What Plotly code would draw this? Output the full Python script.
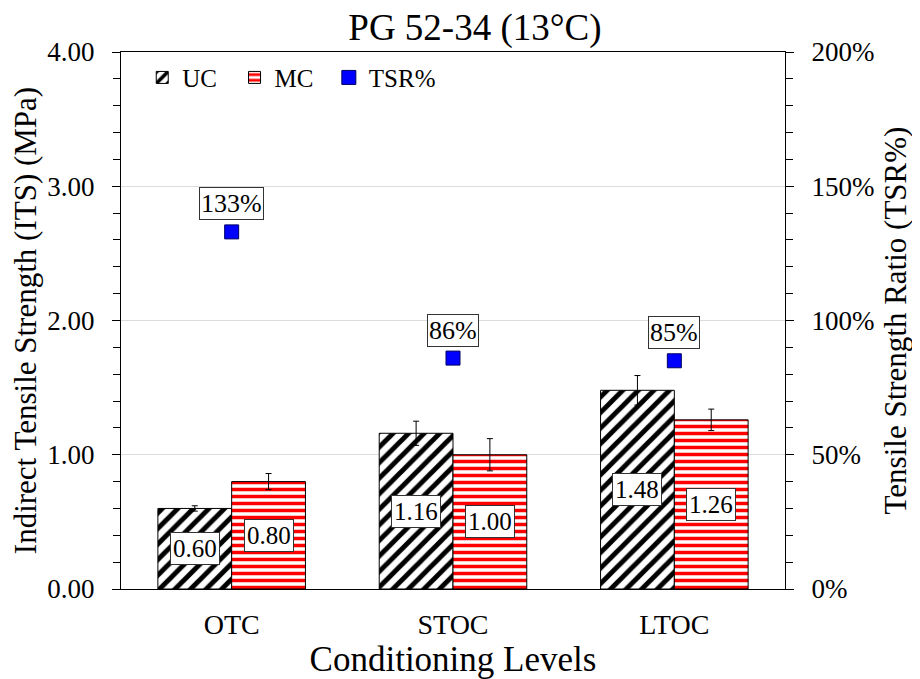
import plotly.graph_objects as go

categories = ["OTC", "STOC", "LTOC"]
uc_values = [0.60, 1.16, 1.48]
uc_errors = [0.02, 0.09, 0.11]
mc_values = [0.80, 1.00, 1.26]
mc_errors = [0.06, 0.12, 0.08]
tsr_values = [1.33, 0.86, 0.85]

FONT = "Liberation Serif"

fig = go.Figure()

fig.add_trace(go.Bar(
    name="UC", x=categories, y=uc_values, legend="legend",
    marker=dict(color="white", line=dict(color="black", width=1),
                pattern=dict(shape="/", fgcolor="black", bgcolor="white", fgopacity=1,
                             size=11, solidity=0.45)),
    error_y=dict(type="data", array=uc_errors, color="black", thickness=1, width=3),
))
fig.add_trace(go.Bar(
    name="MC", x=categories, y=mc_values, legend="legend2",
    marker=dict(color="white", line=dict(color="black", width=1),
                pattern=dict(shape="-", fgcolor="red", bgcolor="white", fgopacity=1,
                             size=7, solidity=0.5)),
    error_y=dict(type="data", array=mc_errors, color="black", thickness=1, width=3),
))
fig.add_trace(go.Scatter(
    name="TSR%", x=categories, y=tsr_values, yaxis="y2", mode="markers", legend="legend3",
    marker=dict(symbol="square", size=14, color="#0000ff", line=dict(color="#000060", width=1)),
))

annotations = []
for i, (u, m) in enumerate(zip(uc_values, mc_values)):
    for xv, val in ((i - 1/6, u), (i + 1/6, m)):
        annotations.append(dict(
            x=xv, y=val / 2, xref="x", yref="y", text=f"{val:.2f}", showarrow=False,
            font=dict(family=FONT, size=25, color="black"),
            bgcolor="white", bordercolor="#333333", borderwidth=1, borderpad=2,
        ))
for i, t in enumerate(tsr_values):
    annotations.append(dict(
        x=i, y=t, xref="x", yref="y2", text=f"{t*100:.0f}%", showarrow=False, yshift=28,
        font=dict(family=FONT, size=26, color="black"),
        bgcolor="white", bordercolor="#333333", borderwidth=1, borderpad=1,
    ))

legend_common = dict(orientation="h", y=0.995, xanchor="left", yanchor="top",
                     bgcolor="rgba(0,0,0,0)", font=dict(family=FONT, size=25),
                     itemwidth=30)

fig.update_layout(
    width=912, height=671,
    margin=dict(l=110, r=135, t=44, b=87),
    paper_bgcolor="white", plot_bgcolor="white",
    font=dict(family=FONT, size=22, color="black"),
    title=dict(text="PG 52-34 (13°C)", x=0.512, xref="container", xanchor="center",
               y=0.971, yanchor="middle", font=dict(family=FONT, size=37, color="black")),
    barmode="group", bargap=1/3, bargroupgap=0,
    showlegend=True,
    legend=dict(x=0.032, **legend_common),
    legend2=dict(x=0.171, **legend_common),
    legend3=dict(x=0.313, **legend_common),
    xaxis=dict(
        showline=True, linecolor="black", linewidth=1, mirror=True,
        ticks="", tickfont=dict(size=28), ticklabelstandoff=10,
        title=dict(text="Conditioning Levels", font=dict(size=35), standoff=3),
    ),
    yaxis=dict(
        range=[0, 4], dtick=1, tickformat=".2f",
        showline=True, linecolor="black", linewidth=1,
        ticks="outside", ticklen=8, tickcolor="black",
        minor=dict(dtick=0.2, ticks="outside", ticklen=7, tickcolor="black", showgrid=False),
        showgrid=True, gridcolor="#dcdcdc", gridwidth=1, zeroline=False,
        tickfont=dict(size=27), ticklabelstandoff=12,
        title=dict(text="Indirect Tensile Strength (ITS) (MPa)", font=dict(size=31), standoff=6),
    ),
    yaxis2=dict(
        range=[0, 2], dtick=0.5, tickformat=".0%", overlaying="y", side="right", anchor="x",
        showline=True, linecolor="black", linewidth=1,
        ticks="outside", ticklen=8, tickcolor="black",
        minor=dict(dtick=0.1, ticks="outside", ticklen=7, tickcolor="black", showgrid=False),
        showgrid=False, zeroline=False,
        tickfont=dict(size=27), ticklabelstandoff=12,
        title=dict(text="Tensile Strength Ratio (TSR%)", font=dict(size=31), standoff=10),
    ),
    yaxis3=dict(
        range=[0, 4], dtick=1, overlaying="y", side="left", anchor="x",
        ticks="inside", ticklen=8, tickcolor="black", showticklabels=False,
        showgrid=False, zeroline=False, showline=False,
    ),
    yaxis4=dict(
        range=[0, 2], dtick=0.5, overlaying="y", side="right", anchor="x",
        ticks="inside", ticklen=8, tickcolor="black", showticklabels=False,
        showgrid=False, zeroline=False, showline=False,
    ),
    annotations=annotations,
)

fig.write_html("out.html")
